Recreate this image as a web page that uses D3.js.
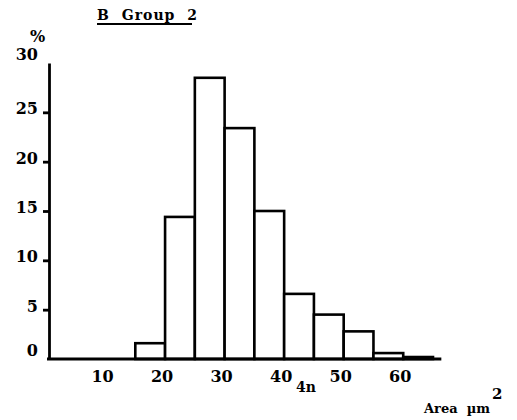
<!DOCTYPE html>
<html>
<head>
<style>
    body { margin: 0; background: white; }
    .bar { fill: white; stroke: black; stroke-width: 2.6; }
    .lbl { font-family: "DejaVu Serif", serif; font-weight: bold; fill: black; white-space: pre; }
    .axis path, .axis line { stroke: black; stroke-width: 2.8; }
</style>
</head>
<body>
<div id="plateau"></div>
<script src="https://cdn.jsdelivr.net/npm/d3@7"></script>
<script>
//////////////////// data ////////////////////
let bin_starts = [15, 20, 25, 30, 35, 40, 45, 50, 55, 60];
let bin_width = 5;
let percents = [1.6, 14.4, 28.5, 23.4, 15.0, 6.6, 4.5, 2.8, 0.6, 0.2];
let y_ticks = [0, 5, 10, 15, 20, 25, 30];
let x_ticks = [10, 20, 30, 40, 50, 60];

//////////////////// layout ////////////////////
let W = 517, H = 420;
let x = d3.scaleLinear().domain([0, 65]).range([46, 433]);
let y = d3.scaleLinear().domain([0, 30]).range([359, 63]);

let svg = d3.select('#plateau').append('svg')
    .attr('width', W)
    .attr('height', H);

// bars
svg.selectAll('rect.bar')
    .data(bin_starts)
    .enter().append('rect')
    .classed('bar', true)
    .attr('x', d => x(d))
    .attr('y', (d, i) => y(percents[i]))
    .attr('width', d => x(d + bin_width) - x(d))
    .attr('height', (d, i) => y(0) - y(percents[i]));

// y axis
let yAxis = svg.append('g')
    .classed('axis', true)
    .attr('transform', 'translate(49, 0)')
    .call(d3.axisLeft(y).tickValues(y_ticks).tickSize(0).tickSizeOuter(0).tickFormat(d3.format('d')));
// petits traits a gauche de l'axe
yAxis.selectAll('.tick').filter(d => d != 0 && d != 30)
    .append('path')
    .attr('d', 'M -6 0 L 0 0')
    .attr('stroke', 'black')
    .attr('stroke-width', 2.6);
yAxis.selectAll('text')
    .attr('class', 'lbl')
    .style('font-size', '16px')
    .attr('x', -11)
    .attr('dy', (d) => d == 30 || d == 0 ? '-0.2em' : '0.1em');

// x axis
let xAxis = svg.append('g')
    .classed('axis', true)
    .attr('transform', `translate(0, ${y(0)})`);
xAxis.append('line')
    .attr('x1', 47).attr('x2', x(66.4))
    .attr('y1', 0).attr('y2', 0);
xAxis.selectAll('text')
    .data(x_ticks)
    .enter().append('text')
    .attr('class', 'lbl')
    .style('font-size', '16px')
    .attr('text-anchor', 'middle')
    .attr('x', d => x(d) - 3)
    .attr('y', 23)
    .text(d => d);

// titles
svg.append('text')
    .attr('class', 'lbl')
    .style('font-size', '14px')
    .style('letter-spacing', '1px')
    .style('word-spacing', '6px')
    .attr('x', 97).attr('y', 20)
    .text('B Group 2');
svg.append('line')
    .attr('x1', 97).attr('x2', 192)
    .attr('y1', 24).attr('y2', 24)
    .attr('stroke', 'black').attr('stroke-width', 1.8);

svg.append('text')
    .attr('class', 'lbl')
    .style('font-size', '16px')
    .attr('x', 30).attr('y', 42)
    .text('%');

svg.append('text')
    .attr('class', 'lbl')
    .style('font-size', '14px')
    .attr('x', 296).attr('y', 392)
    .text('4n');

let area = svg.append('text')
    .attr('class', 'lbl')
    .style('font-size', '13px')
    .attr('x', 424).attr('y', 413);
area.append('tspan').text('Area  µm');
area.append('tspan').attr('dy', -14).attr('dx', 2).style('font-size', '15px').text('2');
</script>
</body>
</html>
